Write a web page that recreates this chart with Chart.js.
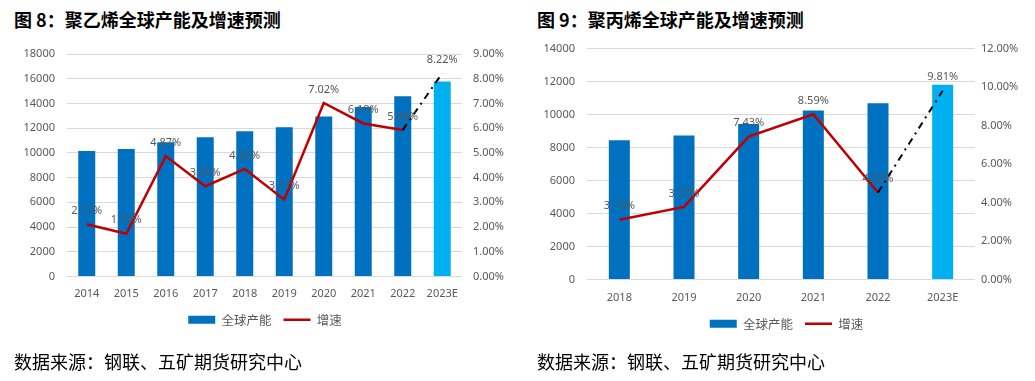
<!DOCTYPE html>
<html>
<head>
<meta charset="utf-8">
<script src="https://cdn.jsdelivr.net/npm/chart.js@4/dist/chart.umd.min.js"></script>
<style>
  body { margin: 0; background: #fff; width: 1035px; height: 381px; position: relative; overflow: hidden; }
  .title { position: absolute; top: 6px; font: bold 18px "Noto Sans CJK SC", sans-serif; color: #000; white-space: nowrap; }
  .source { position: absolute; top: 348px; font: 18px "Noto Sans CJK SC", sans-serif; color: #000; white-space: nowrap; }
  .box { position: absolute; top: 30px; }
</style>
</head>
<body>
<div class="title" style="left:14px">图 8：聚乙烯全球产能及增速预测</div>
<div class="title" style="left:537px">图 9：聚丙烯全球产能及增速预测</div>
<div class="box" style="left:0;width:520px;height:320px"><canvas id="peChart"></canvas></div>
<div class="box" style="left:520px;width:515px;height:320px"><canvas id="ppChart"></canvas></div>
<div class="source" style="left:14px">数据来源：钢联、五矿期货研究中心</div>
<div class="source" style="left:537px">数据来源：钢联、五矿期货研究中心</div>

<script>
// polyethylene (left chart)
const peYears = ["2014", "2015", "2016", "2017", "2018", "2019", "2020", "2021", "2022", "2023E"];
const peCapacity = [10150, 10320, 10860, 11270, 11760, 12080, 12950, 13710, 14580, 15780];
const peGrowth = [2.11, 1.73, 4.87, 3.65, 4.35, 3.11, 7.02, 6.19, 5.93, 8.22];

// polypropylene (right chart)
const ppYears = ["2018", "2019", "2020", "2021", "2022", "2023E"];
const ppCapacity = [8450, 8730, 9430, 10240, 10680, 11810];
const ppGrowth = [3.10, 3.77, 7.43, 8.59, 4.52, 9.81];

const GREY = "#595959";
const BAR = "#0070C0";
const BAR_EST = "#00B0F0";
const RED = "#C00000";

// percentage labels above the growth points
const pointLabels = {
  id: "pointLabels",
  afterDatasetsDraw(chart) {
    const ctx = chart.ctx;
    ctx.save();
    ctx.font = '11px "Noto Sans"';
    ctx.fillStyle = GREY;
    ctx.textAlign = "center";
    ctx.textBaseline = "bottom";
    chart.data.datasets.forEach((ds, i) => {
      if (!ds.pctLabels) return;
      chart.getDatasetMeta(i).data.forEach((pt, j) => {
        const v = ds.data[j];
        if (v == null) return;
        if (ds.pctLabels === "last" && j !== ds.data.length - 1) return;
        ctx.fillText(v.toFixed(2) + "%", pt.x, pt.y - 8);
      });
    });
    ctx.restore();
  },
};

const makeChart = (id, o) => {
  const n = o.labels.length;
  const solid = o.growth.map((v, i) => (i < n - 1 ? v : null)); // actual years
  const dashed = o.growth.map((v, i) => (i >= n - 2 ? v : null)); // forecast segment
  const colors = o.labels.map((l, i) => (i === n - 1 ? BAR_EST : BAR));

  return new Chart(document.getElementById(id), {
    type: "bar",
    data: {
      labels: o.labels,
      datasets: [
        {
          label: "全球产能",
          data: o.capacity,
          backgroundColor: colors,
          borderWidth: 0,
          barPercentage: o.barPct,
          categoryPercentage: 1,
          yAxisID: "y",
          order: 2,
        },
        {
          type: "line",
          label: "增速",
          data: solid,
          borderColor: RED,
          backgroundColor: RED,
          borderWidth: 2.5,
          pointRadius: 0,
          tension: 0,
          yAxisID: "y1",
          order: 1,
          pctLabels: "all",
        },
        {
          type: "line",
          label: "forecast",
          data: dashed,
          borderColor: "#000",
          borderWidth: 2,
          borderDash: [7, 5, 2, 5],
          pointRadius: 0,
          tension: 0,
          yAxisID: "y1",
          order: 0,
          pctLabels: "last",
        },
      ],
    },
    options: {
      responsive: true,
      maintainAspectRatio: false,
      animation: false,
      layout: { padding: { top: o.padTop, left: o.padLeft, right: 0, bottom: o.padBottom } },
      plugins: {
        tooltip: { enabled: false },
        legend: {
          position: "bottom",
          labels: {
            usePointStyle: true,
            pointStyleWidth: 27,
            boxHeight: 8,
            padding: 12,
            color: GREY,
            font: { family: '"Noto Sans CJK SC"', size: 12.5 },
            filter: (item) => item.datasetIndex !== 2,
            sort: (a, b) => a.datasetIndex - b.datasetIndex,
            generateLabels: (chart) =>
              chart.data.datasets.map((ds, i) => ({
                text: ds.label,
                datasetIndex: i,
                fillStyle: i === 0 ? BAR : RED,
                strokeStyle: i === 0 ? BAR : RED,
                lineWidth: i === 0 ? 0 : 2.5,
                pointStyle: i === 0 ? "rect" : "line",
                fontColor: GREY,
              })),
          },
        },
      },
      scales: {
        x: {
          grid: { display: false, drawTicks: false },
          border: { display: false },
          ticks: { color: GREY, padding: o.xPad, font: { family: '"Noto Sans"', size: 11 } },
          afterFit: (s) => { s.height = o.xHeight; },
        },
        y: {
          position: "left",
          min: 0,
          max: o.leftMax,
          ticks: {
            stepSize: 2000,
            color: GREY,
            padding: 12,
            font: { family: '"Noto Sans"', size: 11 },
            callback: (v) => String(v),
          },
          grid: { color: "#D9D9D9", drawTicks: false },
          border: { display: false },
          afterFit: (s) => { s.width = o.leftWidth; },
        },
        y1: {
          position: "right",
          min: 0,
          max: o.rightMax,
          ticks: {
            stepSize: o.rightStep,
            color: GREY,
            padding: o.rightPad,
            font: { family: '"Noto Sans"', size: 11 },
            callback: (v) => v.toFixed(2) + "%",
          },
          grid: { display: false, drawTicks: false },
          border: { display: false },
          afterFit: (s) => { s.width = o.rightWidth; },
        },
      },
    },
    plugins: [pointLabels],
  });
};

makeChart("peChart", {
  labels: peYears, capacity: peCapacity, growth: peGrowth,
  barPct: 0.43, leftMax: 18000, rightMax: 9, rightStep: 1,
  padTop: 24, padLeft: 10, padBottom: 14,
  leftWidth: 57, rightWidth: 58, rightPad: 11, xPad: 11, xHeight: 25,
});

makeChart("ppChart", {
  labels: ppYears, capacity: ppCapacity, growth: ppGrowth,
  barPct: 0.325, leftMax: 14000, rightMax: 12, rightStep: 2,
  padTop: 17, padLeft: 18, padBottom: 10,
  leftWidth: 49, rightWidth: 60, rightPad: 6, xPad: 12, xHeight: 26,
});
</script>
</body>
</html>
